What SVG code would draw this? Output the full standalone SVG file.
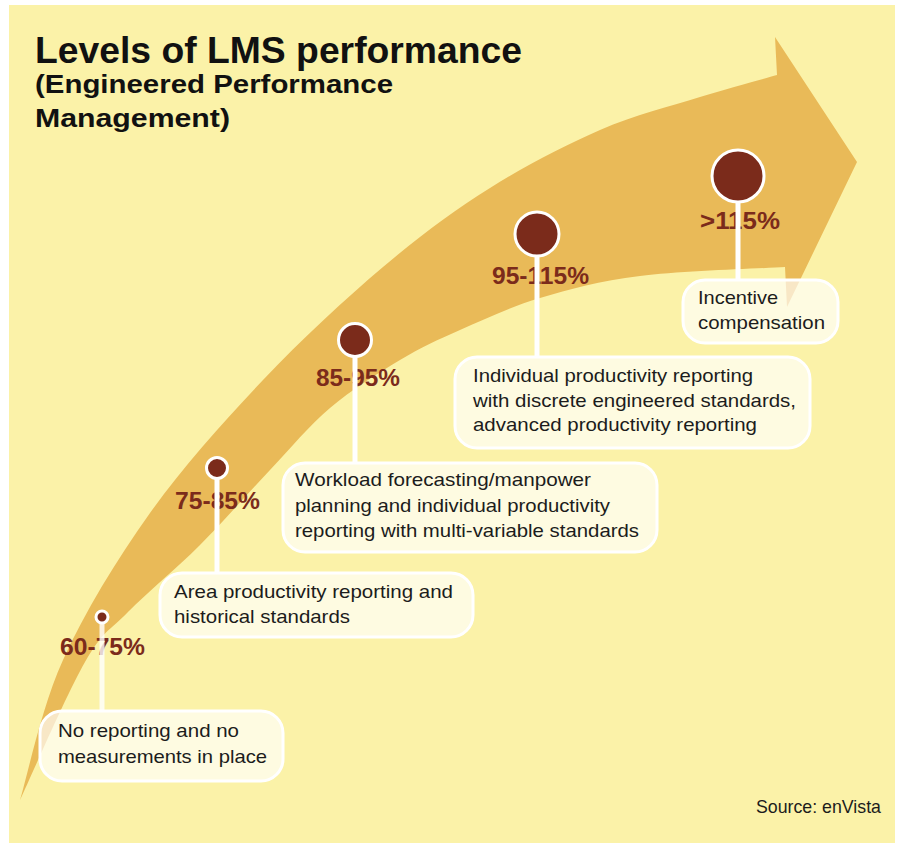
<svg xmlns="http://www.w3.org/2000/svg" width="897" height="843" viewBox="0 0 897 843">
  <style>
    .title { font-family: "Liberation Sans", Arial, sans-serif; font-weight: bold; fill: #111; }
    .pct { font-family: "Liberation Sans", Arial, sans-serif; font-weight: bold; font-size: 23px; fill: #7B2B1B; text-anchor: middle; }
    .body { font-family: "Liberation Sans", Arial, sans-serif; font-size: 18.5px; fill: #1c1c1c; }
    .box { fill: #ffffff; fill-opacity: 0.66; stroke: #ffffff; stroke-width: 3; }
    .stem { stroke: #ffffff; stroke-width: 5; fill: none; }
    .dot { fill: #7B2B1B; stroke: #ffffff; stroke-width: 3; }
  </style>

  <!-- page background -->
  <rect x="0" y="0" width="897" height="843" fill="#ffffff"/>
  <rect x="9" y="5" width="886" height="838" fill="#FBF2A8"/>

  <!-- curved growth arrow -->
  <path id="arrow" fill="#E9BA58" d="
    M20,800
    C27.2,776.7 41.3,707.8 63,660
    C84.7,612.2 116.7,559.7 150,513
    C183.3,466.3 224.2,421 263,380
    C301.8,339 345.2,299 383,267
    C420.8,235 453.8,210.8 490,188
    C526.2,165.2 565,145.2 600,130
    C635,114.8 670.5,106.2 700,97
    C729.5,87.8 764.2,78.7 777,75
    L775,37 L857,162 L787,307 L785,267
    C760.8,268.5 680.8,270.8 640,276
    C599.2,281.2 570,289 540,298
    C510,307 483.3,319.7 460,330
    C436.7,340.3 421.7,347 400,360
    C378.3,373 351.7,389.7 330,408
    C308.3,426.3 291.7,447.2 270,470
    C248.3,492.8 223.7,521.3 200,545
    C176.3,568.7 147.2,592.5 128,612
    C108.8,631.5 103,630.7 85,662
    C67,693.3 30.8,777 20,800 Z"/>

  <!-- heading -->
  <g id="heading">
    <text class="title" x="35" y="63" font-size="37" textLength="487" lengthAdjust="spacingAndGlyphs">Levels of LMS performance</text>
    <text class="title" x="35" y="93" font-size="26" textLength="358" lengthAdjust="spacingAndGlyphs">(Engineered Performance</text>
    <text class="title" x="35" y="127" font-size="26" textLength="195" lengthAdjust="spacingAndGlyphs">Management)</text>
  </g>

  <!-- level 1 -->
  <g id="level-60-75">
    <rect class="box" x="40" y="711" width="243" height="70" rx="22"/>
    <text class="body" x="58" y="737" textLength="181" lengthAdjust="spacingAndGlyphs">No reporting and no</text>
    <text class="body" x="58" y="763" textLength="209" lengthAdjust="spacingAndGlyphs">measurements in place</text>
    <text class="pct" x="102.5" y="655" textLength="85" lengthAdjust="spacingAndGlyphs">60-75%</text>
  </g>

  <!-- level 2 -->
  <g id="level-75-85">
    <rect class="box" x="160" y="573" width="313" height="64" rx="22"/>
    <text class="body" x="174" y="598" textLength="279" lengthAdjust="spacingAndGlyphs">Area productivity reporting and</text>
    <text class="body" x="174" y="623" textLength="176" lengthAdjust="spacingAndGlyphs">historical standards</text>
    <text class="pct" x="217.5" y="509" textLength="85" lengthAdjust="spacingAndGlyphs">75-85%</text>
  </g>

  <!-- level 3 -->
  <g id="level-85-95">
    <rect class="box" x="283" y="463" width="374" height="89" rx="22"/>
    <text class="body" x="295" y="486" textLength="296" lengthAdjust="spacingAndGlyphs">Workload forecasting/manpower</text>
    <text class="body" x="295" y="512" textLength="315" lengthAdjust="spacingAndGlyphs">planning and individual productivity</text>
    <text class="body" x="295" y="537" textLength="344" lengthAdjust="spacingAndGlyphs">reporting with multi-variable standards</text>
    <text class="pct" x="358" y="386" textLength="84" lengthAdjust="spacingAndGlyphs">85-95%</text>
  </g>

  <!-- level 4 -->
  <g id="level-95-115">
    <rect class="box" x="455" y="357" width="355" height="91" rx="22"/>
    <text class="body" x="473" y="382" textLength="280" lengthAdjust="spacingAndGlyphs">Individual productivity reporting</text>
    <text class="body" x="473" y="407" textLength="323" lengthAdjust="spacingAndGlyphs">with discrete engineered standards,</text>
    <text class="body" x="473" y="431" textLength="284" lengthAdjust="spacingAndGlyphs">advanced productivity reporting</text>
    <text class="pct" x="540.5" y="284" textLength="97" lengthAdjust="spacingAndGlyphs">95-115%</text>
  </g>

  <!-- level 5 -->
  <g id="level-over-115">
    <rect class="box" x="683" y="280" width="155" height="63" rx="22"/>
    <text class="body" x="698" y="304" textLength="80" lengthAdjust="spacingAndGlyphs">Incentive</text>
    <text class="body" x="698" y="329" textLength="127" lengthAdjust="spacingAndGlyphs">compensation</text>
    <text class="pct" x="740" y="229" textLength="80" lengthAdjust="spacingAndGlyphs">&gt;115%</text>
  </g>

  <!-- stems from each marker down to its box -->
  <g id="connectors">
    <line class="stem" x1="102" y1="617" x2="102" y2="710" stroke-opacity="0.8"/>
    <line class="stem" x1="217" y1="468" x2="217" y2="572"/>
    <line class="stem" x1="355" y1="340" x2="355" y2="462"/>
    <line class="stem" x1="537" y1="234" x2="537" y2="356"/>
    <line class="stem" x1="738" y1="176" x2="738" y2="279"/>
  </g>

  <!-- level markers, growing with performance -->
  <g id="markers">
    <circle class="dot" cx="102" cy="617" r="6"/>
    <circle class="dot" cx="217" cy="468" r="10.5"/>
    <circle class="dot" cx="355" cy="340" r="16.5"/>
    <circle class="dot" cx="537" cy="234" r="22"/>
    <circle class="dot" cx="738" cy="176" r="26"/>
  </g>

  <text id="source" class="body" x="756" y="813" font-size="16" textLength="125" lengthAdjust="spacingAndGlyphs">Source: enVista</text>
</svg>
